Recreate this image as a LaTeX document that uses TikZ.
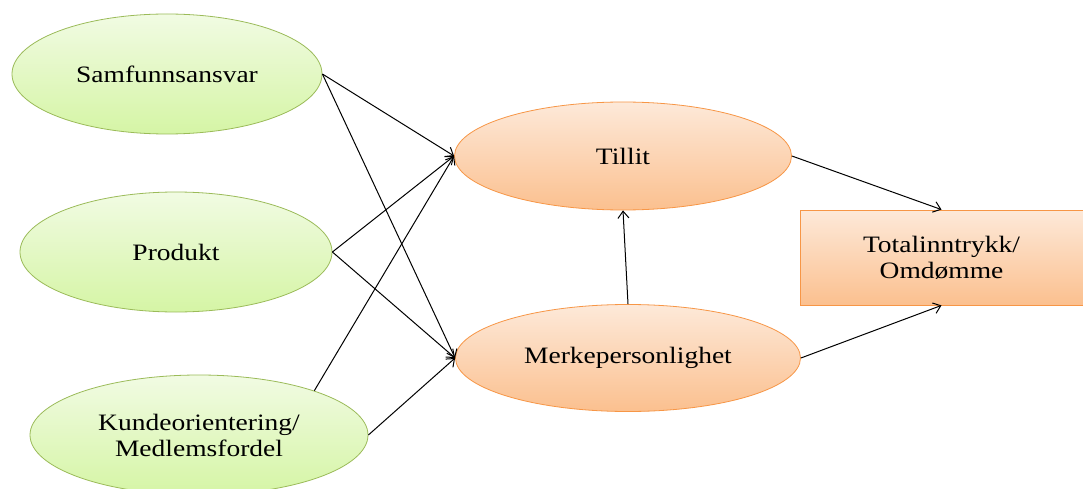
\documentclass[tikz,border=0pt]{standalone}
\usepackage{fontspec}
\setmainfont{Liberation Serif}[FakeStretch=1.17]
\usetikzlibrary{arrows.meta,shapes.geometric}
\definecolor{grntop}{HTML}{F1FBE3}
\definecolor{grnbot}{HTML}{D5F5A5}
\definecolor{grnedge}{HTML}{9BBB59}
\definecolor{orgtop}{HTML}{FDE9D9}
\definecolor{orgbot}{HTML}{FBC08F}
\definecolor{orgedge}{HTML}{F79646}
\tikzset{
  base/.style={font=\fontsize{23.5}{24.5}\selectfont, align=center, inner sep=0pt, line width=0.8pt},
  driver/.style={base, ellipse, draw=grnedge, top color=grntop, bottom color=grnbot},
  mediator/.style={base, ellipse, draw=orgedge, top color=orgtop, bottom color=orgbot},
  outcome/.style={base, rectangle, draw=orgedge, top color=orgtop, bottom color=orgbot,
    minimum width=283pt, minimum height=95pt},
  link/.style={-{Straight Barb[length=7pt,width=11pt,line width=1pt]}, line width=1pt, black}
}
\begin{document}
\begin{tikzpicture}[x=1pt,y=-1pt]
  \clip (0,0) rectangle (1083,489);
  \fill[white] (0,0) rectangle (1083,489);

  \node[driver, minimum width=310pt, minimum height=120pt] (samf) at (167,74) {Samfunnsansvar};
  \node[driver, minimum width=312pt, minimum height=120pt] (prod) at (176,252) {Produkt};
  \node[driver, minimum width=338pt, minimum height=120pt] (kunde) at (199,435) {Kundeorientering/\\[1.5pt]Medlemsfordel};

  \node[mediator, minimum width=337pt, minimum height=108pt] (tillit) at (623,156) {Tillit};
  \node[mediator, minimum width=345pt, minimum height=107pt] (merke) at (628,358) {Merkepersonlighet};

  \node[outcome] (total) at (941.5,257.5) {Totalinntrykk/\\[1.5pt]Omdømme};

  \draw[link] (samf.east) -- (tillit.west);
  \draw[link] (samf.east) -- (merke.west);
  \draw[link] (prod.east) -- (tillit.west);
  \draw[link] (prod.east) -- (merke.west);
  \draw[link] (kunde.21) -- (tillit.west);
  \draw[link] (kunde.east) -- (merke.west);
  \draw[link] (merke.north) -- (tillit.south);
  \draw[link] (tillit.east) -- (total.north);
  \draw[link] (merke.east) -- (total.south);
\end{tikzpicture}
\end{document}
